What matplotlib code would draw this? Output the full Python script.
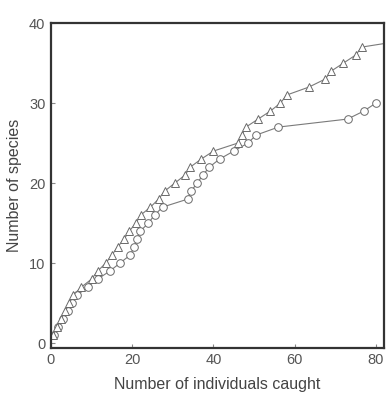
import matplotlib.pyplot as plt

# cumulative species counts against individuals caught (one point per new species)
tri_x = [0.5, 1.5, 2.5, 3.5, 4.5, 5.5, 7.5, 10, 11.5, 13.5, 15, 16.4, 18, 19.3,
         20.9, 22.1, 24.5, 26.5, 28, 30.5, 33, 34.3, 37, 40, 46, 47, 48, 51,
         54, 56.5, 58, 63.5, 67.5, 69, 72, 75, 76.5, 84]
tri_y = [1, 2, 3, 4, 5, 6, 7, 8, 9, 10, 11, 12, 13, 14, 15, 16, 17, 18, 19,
         20, 21, 22, 23, 24, 25, 26, 27, 28, 29, 30, 31, 32, 33, 34, 35, 36,
         37, 37.6]

circ_x = [0.8, 1.8, 3, 4.2, 5.2, 6.5, 9, 11.5, 14.5, 17, 19.5, 20.5, 21.3,
          22, 24, 25.5, 27.5, 33.7, 34.5, 36, 37.4, 39, 41.5, 45, 48.5, 50.5,
          56, 73, 77, 80]
circ_y = [1, 2, 3, 4, 5, 6, 7, 8, 9, 10, 11, 12, 13, 14, 15, 16, 17, 18, 19,
          20, 21, 22, 23, 24, 25, 26, 27, 28, 29, 30]

x_ticks = [0, 20, 40, 60, 80]
y_ticks = [0, 10, 20, 30, 40]

plt.rcParams['font.family'] = ['Liberation Sans', 'DejaVu Sans']

fig = plt.figure(figsize=(3.86, 3.98), dpi=100)
ax = fig.add_axes([0.132, 0.126, 0.863, 0.816])

line_kw = dict(color='#7a7a7a', linewidth=0.8, markersize=5.5,
               markerfacecolor='white', markeredgecolor='#6a6a6a',
               markeredgewidth=0.7)
ax.plot(circ_x, circ_y, marker='o', **line_kw)
ax.plot(tri_x, tri_y, marker='^', **line_kw)

ax.set_xlim(0, 82)
ax.set_ylim(-0.6, 40)
ax.set_xticks(x_ticks)
ax.set_yticks(y_ticks)

for side in ax.spines.values():
    side.set_linewidth(1.6)
    side.set_color('#333333')

ax.tick_params(direction='in', length=3, width=0.8, color='#888888',
               labelcolor='#555555', labelsize=10.5, pad=4)

ax.set_xlabel("Number of individuals caught", fontsize=11.5, color='#444444', labelpad=7)
ax.set_ylabel("Number of species", fontsize=11.5, color='#444444', labelpad=5)

fig.savefig("out.png", dpi=100)
